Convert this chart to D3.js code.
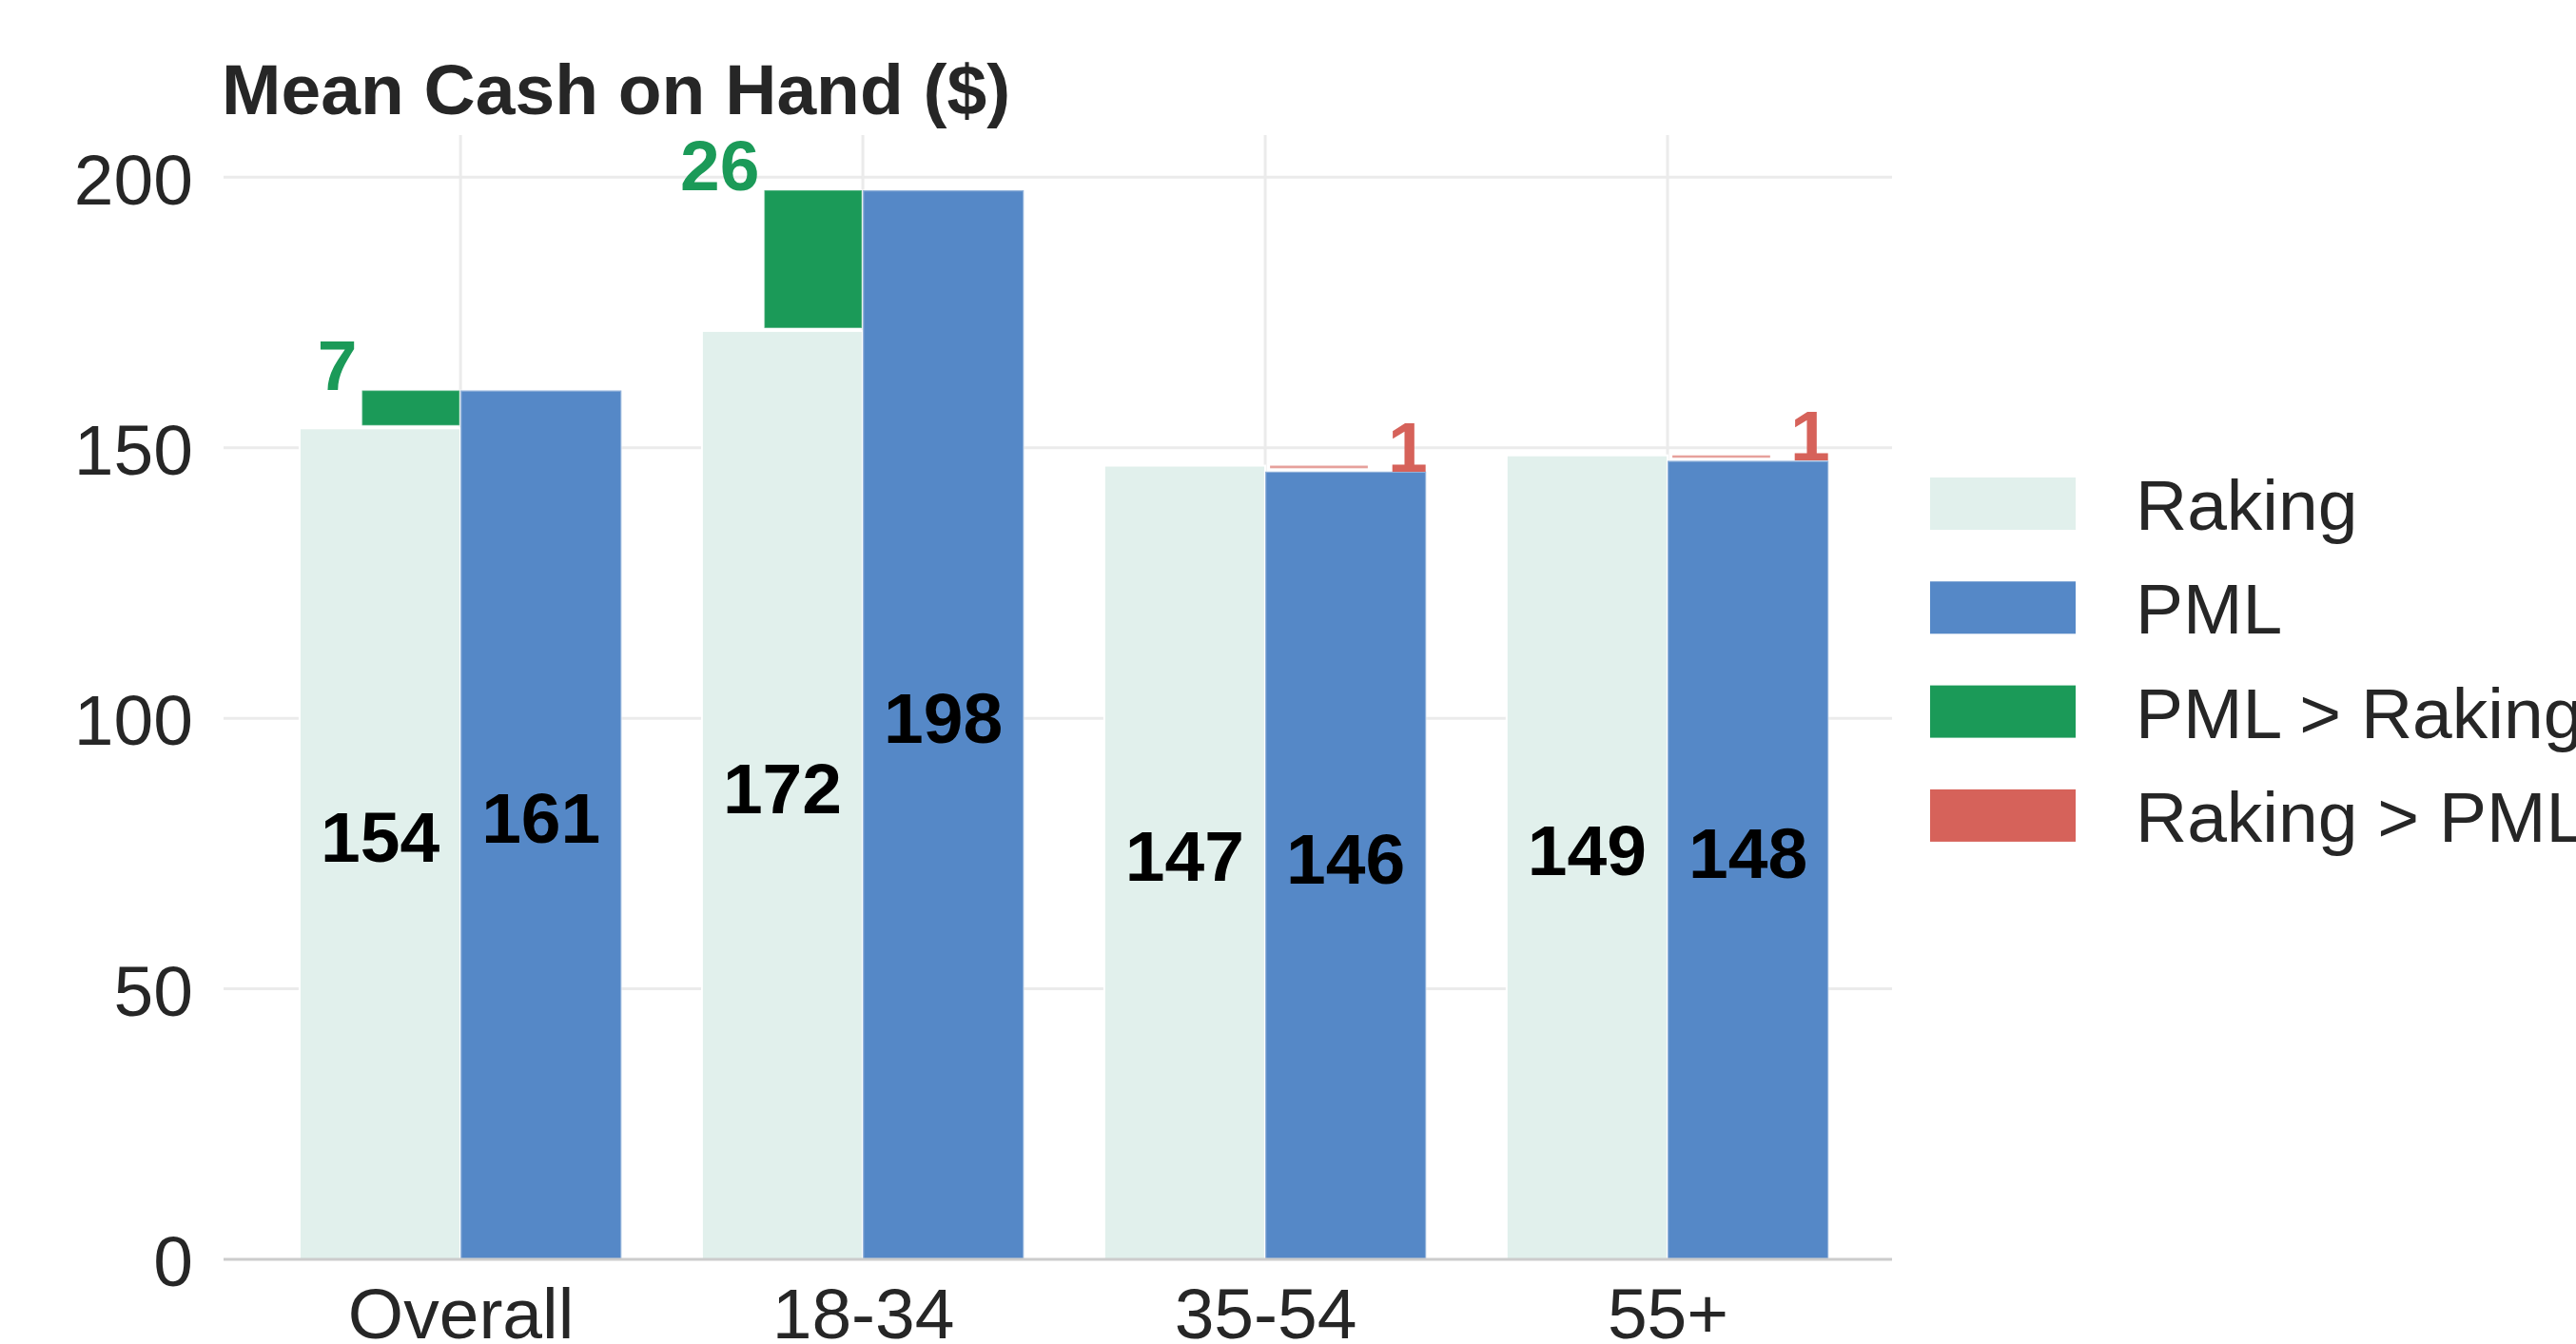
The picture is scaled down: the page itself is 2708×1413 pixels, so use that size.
<!DOCTYPE html>
<html>
<head>
<meta charset="utf-8">
<script src="https://cdn.jsdelivr.net/npm/d3@7"></script>
<style>
  html, body { margin: 0; padding: 0; background: #fff; }
  svg { display: block; font-family: "Liberation Sans", Arial, Helvetica, sans-serif; }
</style>
</head>
<body>
<svg id="chart" width="2708" height="1413"></svg>
<script>
// ---- data ----
const categories = ["Overall", "18-34", "35-54", "55+"];
const rakingValues = [153.6, 171.6, 146.7, 148.6];
const pmlValues = [160.6, 197.6, 145.6, 147.6];
const yTicks = [0, 50, 100, 150, 200];
const seriesNames = ["Raking", "PML", "PML > Raking", "Raking > PML"];
const seriesColors = ["#e1f0ec", "#5588c7", "#1b9a58", "#d6625a"];
const titleText = "Mean Cash on Hand ($)";

// ---- layout ----
const svg = d3.select("#chart");
const plot = { left: 235, right: 1989, top: 142, bottom: 1324 };
const x = d3.scaleLinear().domain([-0.589, 3.558]).range([plot.left, plot.right]);
const y = d3.scaleLinear().domain([0, 207.8]).range([plot.bottom, plot.top]);
const FS = 75;

svg.append("rect").attr("width", 2708).attr("height", 1413).attr("fill", "#fff");

// gridlines
const grid = svg.append("g");
grid.selectAll("line.h").data(yTicks.filter(d => d > 0)).join("line")
  .attr("x1", plot.left).attr("x2", plot.right)
  .attr("y1", d => y(d)).attr("y2", d => y(d))
  .attr("stroke", "#ebebeb").attr("stroke-width", 3);
grid.selectAll("line.v").data(categories.map((c, i) => i)).join("line")
  .attr("x1", d => x(d)).attr("x2", d => x(d))
  .attr("y1", plot.top).attr("y2", plot.bottom)
  .attr("stroke", "#ebebeb").attr("stroke-width", 3);

// bars
const bars = svg.append("g");
const idx = categories.map((c, i) => i);
bars.selectAll("rect.rk").data(idx).join("rect")
  .attr("x", i => x(i - 0.4)).attr("width", i => x(i) - x(i - 0.4))
  .attr("y", i => y(rakingValues[i])).attr("height", i => y(0) - y(rakingValues[i]))
  .attr("fill", seriesColors[0]).attr("stroke", "#fff").attr("stroke-width", 2);
bars.selectAll("rect.pm").data(idx).join("rect")
  .attr("x", i => x(i)).attr("width", i => x(i + 0.4) - x(i))
  .attr("y", i => y(pmlValues[i])).attr("height", i => y(0) - y(pmlValues[i]))
  .attr("fill", seriesColors[1]).attr("stroke", "#fff").attr("stroke-opacity", 0.35).attr("stroke-width", 2.5);

// difference bars
const up = idx.filter(i => pmlValues[i] >= rakingValues[i]);
const down = idx.filter(i => pmlValues[i] < rakingValues[i]);
bars.selectAll("rect.up").data(up).join("rect")
  .attr("x", i => x(i - 0.245)).attr("width", i => x(i) - x(i - 0.245) - 1)
  .attr("y", i => y(pmlValues[i])).attr("height", i => y(rakingValues[i]) - y(pmlValues[i]) - 3)
  .attr("fill", seriesColors[2]).attr("stroke", "#fff").attr("stroke-opacity", 0.3).attr("stroke-width", 1.5);
bars.selectAll("rect.down").data(down).join("rect")
  .attr("x", i => x(i + 0.012)).attr("width", i => x(i + 0.255) - x(i + 0.012))
  .attr("y", i => y(rakingValues[i])).attr("height", i => Math.max(2.5, y(pmlValues[i]) - y(rakingValues[i]) - 3.5))
  .attr("fill", seriesColors[3]).attr("opacity", 0.6);

// bottom axis line
svg.append("line").attr("x1", plot.left).attr("x2", plot.right)
  .attr("y1", y(0)).attr("y2", y(0)).attr("stroke", "#cccccc").attr("stroke-width", 3);

// value labels
const labels = svg.append("g").attr("font-weight", "bold").attr("font-size", FS).attr("fill", "#000").attr("text-anchor", "middle");
labels.selectAll("text.rk").data(idx).join("text")
  .attr("x", i => x(i - 0.2)).attr("y", i => y(rakingValues[i] / 2) + 19)
  .text(i => Math.round(rakingValues[i]));
labels.selectAll("text.pm").data(idx).join("text")
  .attr("x", i => x(i + 0.2)).attr("y", i => y(pmlValues[i] / 2) + 19)
  .text(i => Math.round(pmlValues[i]));

// difference labels
const dl = svg.append("g").attr("font-weight", "bold").attr("font-size", FS);
dl.selectAll("text.up").data(up).join("text")
  .attr("x", i => x(i - 0.257)).attr("y", i => y(pmlValues[i]))
  .attr("text-anchor", "end").attr("fill", seriesColors[2])
  .text(i => Math.round(pmlValues[i] - rakingValues[i]));
dl.selectAll("text.down").data(down).join("text")
  .attr("x", i => x(i + 0.305)).attr("y", i => y(pmlValues[i]))
  .attr("text-anchor", "start").attr("fill", seriesColors[3])
  .text(i => Math.round(rakingValues[i] - pmlValues[i]));

// axes
const yAxis = d3.axisLeft(y).tickValues(yTicks).tickSize(0).tickPadding(32);
const gy = svg.append("g").attr("transform", `translate(${plot.left},0)`).call(yAxis);
gy.select(".domain").remove();
gy.selectAll("text").attr("font-size", FS).attr("fill", "#262626").attr("dy", "0.37em")
  .attr("font-family", "Liberation Sans, Arial, sans-serif");

const xAxis = d3.axisBottom(x).tickValues(idx).tickFormat(i => categories[i]).tickSize(0).tickPadding(30);
const gx = svg.append("g").attr("transform", `translate(0,${plot.bottom})`).call(xAxis);
gx.select(".domain").remove();
gx.selectAll("text").attr("font-size", FS).attr("fill", "#262626")
  .attr("font-family", "Liberation Sans, Arial, sans-serif");

// title
svg.append("text").attr("x", 233).attr("y", 120)
  .attr("font-size", FS).attr("font-weight", "bold").attr("fill", "#262626")
  .text(titleText);

// legend
const legend = svg.append("g");
const lg = legend.selectAll("g").data(seriesNames).join("g")
  .attr("transform", (d, i) => `translate(2029,${502 + i * 109.3})`);
lg.append("rect").attr("width", 153).attr("height", 55)
  .attr("fill", (d, i) => seriesColors[i]);
lg.append("text").attr("x", 216).attr("y", 55)
  .attr("font-size", FS).attr("fill", "#262626").text(d => d);
</script>
</body>
</html>
